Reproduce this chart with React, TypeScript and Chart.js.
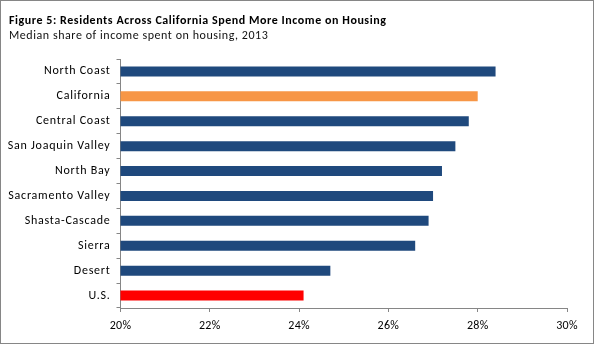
import React, { useEffect, useRef } from "react";
import { Chart, registerables } from "chart.js";

Chart.register(...registerables);

const TITLE = "Figure 5: Residents Across California Spend More Income on Housing";
const SUBTITLE = "Median share of income spent on housing, 2013";

const categories = [
  "North Coast",
  "California",
  "Central Coast",
  "San Joaquin Valley",
  "North Bay",
  "Sacramento Valley",
  "Shasta-Cascade",
  "Sierra",
  "Desert",
  "U.S.",
];
const values = [28.4, 28.0, 27.8, 27.5, 27.2, 27.0, 26.9, 26.6, 24.7, 24.1];
const barColors = [
  "#1F497D",
  "#F79646",
  "#1F497D",
  "#1F497D",
  "#1F497D",
  "#1F497D",
  "#1F497D",
  "#1F497D",
  "#1F497D",
  "#FF0000",
];
const xMin = 20;
const xMax = 30;
const xStep = 2;

const FONT = "Carlito, Calibri, Lato, sans-serif";

function patchLabels(scale: any, spacing: string) {
  if (!scale || scale.__patched) return;
  const orig = scale.drawLabels;
  scale.drawLabels = function (area: any) {
    const ctx = this.ctx;
    const prev = ctx.letterSpacing;
    ctx.letterSpacing = spacing;
    orig.call(this, area);
    ctx.letterSpacing = prev;
  };
  scale.__patched = true;
}

export default function App() {
  const ref = useRef<HTMLCanvasElement | null>(null);

  useEffect(() => {
    if (!ref.current) return;
    const titlePlugin = {
      id: "titleText",
      beforeDraw(chart: any) {
        patchLabels(chart.scales.y, "0.75px");
        patchLabels(chart.scales.x, "0.3px");
      },
      afterDraw(chart: any) {
        const ctx = chart.ctx;
        ctx.save();
        ctx.textBaseline = "alphabetic";
        ctx.textAlign = "left";
        ctx.fillStyle = "#000";
        ctx.letterSpacing = "0.55px";
        ctx.font = `bold 12px ${FONT}`;
        ctx.fillText(TITLE, 8, 23);
        ctx.letterSpacing = "0.55px";
        ctx.font = `12px ${FONT}`;
        ctx.fillStyle = "#111";
        ctx.fillText(SUBTITLE, 8, 37.7);
        ctx.restore();
      },
    };
    const chart = new Chart(ref.current, {
      type: "bar",
      data: {
        labels: categories,
        datasets: [
          {
            data: values,
            backgroundColor: barColors,
            borderWidth: 0,
            categoryPercentage: 1,
            barPercentage: 0.4,
          },
        ],
      },
      options: {
        indexAxis: "y",
        responsive: false,
        animation: false,
        layout: { padding: { top: 58, right: 26, left: 0, bottom: 0 } },
        plugins: {
          legend: { display: false },
          tooltip: { enabled: false },
          title: { display: false },
        },
        scales: {
          x: {
            min: xMin,
            max: xMax,
            ticks: {
              stepSize: xStep,
              color: "#000",
              font: { family: FONT, size: 12 },
              padding: 7,
              callback: (v: any) => v + "%",
              maxRotation: 0,
            },
            grid: {
              drawOnChartArea: false,
              drawTicks: true,
              tickLength: 4,
              color: "#868686",
            },
            border: { display: true, color: "#868686" },
            afterFit: (s: any) => {
              s.height = 35;
            },
          },
          y: {
            ticks: {
              color: "#000",
              font: { family: FONT, size: 12 },
              padding: 6,
            },
            grid: {
              drawOnChartArea: false,
              drawTicks: true,
              tickLength: 4,
              color: "#868686",
              offset: true,
            },
            border: { display: true, color: "#868686" },
            afterFit: (s: any) => {
              s.width = 119.5;
            },
          },
        },
      },
      plugins: [titlePlugin],
    });
    return () => chart.destroy();
  }, []);

  return (
    <div
      style={{
        position: "fixed",
        left: 0,
        top: 0,
        width: 594,
        height: 344,
        boxSizing: "border-box",
        border: "1px solid #868686",
        background: "#fff",
      }}
    >
      <canvas ref={ref} width={592} height={342} style={{ display: "block" }} />
    </div>
  );
}
